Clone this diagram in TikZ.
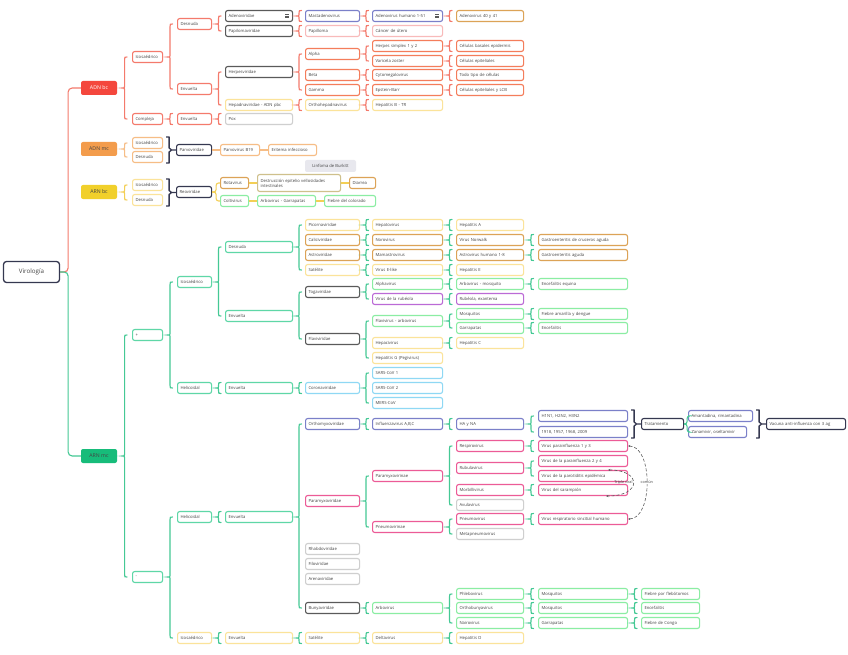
\documentclass[tikz,border=0pt]{standalone}
\usepackage{fontspec}
\setmainfont{Open Sans}
\usetikzlibrary{calc,arrows.meta}
\definecolor{tx}{HTML}{444444}
\definecolor{cRdF}{HTML}{F4473D}
\definecolor{cRd}{HTML}{F47A6C}
\definecolor{cDk}{HTML}{5A5A5A}
\definecolor{cNv}{HTML}{353850}
\definecolor{cBp}{HTML}{7B80C9}
\definecolor{cGd}{HTML}{DCA357}
\definecolor{cLp}{HTML}{F8BABA}
\definecolor{cOg}{HTML}{F47D5B}
\definecolor{cYl}{HTML}{FBE39A}
\definecolor{cLg}{HTML}{CFCFCF}
\definecolor{cOr}{HTML}{F6BD86}
\definecolor{cOrF}{HTML}{F39C4C}
\definecolor{cYlF}{HTML}{F1D02B}
\definecolor{cGnF}{HTML}{17BC7A}
\definecolor{cGr}{HTML}{8BEDA3}
\definecolor{cTl}{HTML}{5FD7A7}
\definecolor{cBrG}{HTML}{45C995}
\definecolor{cBrY}{HTML}{F3CF55}
\definecolor{cPu}{HTML}{BB6AD6}
\definecolor{cLb}{HTML}{8FD8F4}
\definecolor{cPk}{HTML}{EC5B97}
\definecolor{cKh}{HTML}{CFC08C}
\definecolor{cBurk}{HTML}{E8E8EE}
\newcommand\nodefont{\fontsize{4.2}{5}\selectfont}
\newcommand\nd[6]{\node[bx,#2,draw=#3] (#1) at (#4,#5) {#6};}
\newcommand\Brc[4][]{\draw[brcst,#1] let \p1=(#3.west), \p2=(#4.west), \p3=(#2.east), \p4=({(\x1+\x3)/2},\y3) in
 (\x4+2.5pt,\y1) .. controls (\x4,\y1) .. (\x4,\y1-2.5pt) -- (\x4,\y4+2pt) .. controls (\x4,\y4) .. (\x4-2.5pt,\y4) .. controls (\x4,\y4) .. (\x4,\y4-2pt) -- (\x4,\y2+2.5pt) .. controls (\x4,\y2) .. (\x4+2.5pt,\y2);}
\newcommand\Brs[3][]{\draw[brcst,#1] let \p1=(#3.west), \p3=(#2.east), \p4=({(\x1+\x3)/2},\y3) in
 (\x4+2.5pt,\y1+5.5pt) .. controls (\x4,\y1+5.5pt) .. (\x4,\y1+3pt) -- (\x4,\y4+2pt) .. controls (\x4,\y4) .. (\x4-2.5pt,\y4) .. controls (\x4,\y4) .. (\x4,\y4-2pt) -- (\x4,\y1-3pt) .. controls (\x4,\y1-5.5pt) .. (\x4+2.5pt,\y1-5.5pt);}
\newcommand\Sqb[4][]{\draw[sqbst,#1] let \p1=(#2.north east), \p2=(#3.south east), \p3=(#4.west), \p4=({max(\x1,\x2)+6pt},{(\y1+\y2)/2}) in
 (\x4-3pt,\y1) -- (\x4,\y1) -- (\x4,\y4+2pt) -- (\x4+2.5pt,\y4) -- (\x4,\y4-2pt) -- (\x4,\y2) -- (\x4-3pt,\y2) (\x4+2.5pt,\y4) -- (\x3,\y4);}
\begin{document}
\begin{tikzpicture}[x=1pt,y=-1pt,
 bx/.style={draw, rounded corners=2.2pt, line width=1.1pt, fill=white, anchor=west, minimum height=11pt, inner xsep=3pt, inner ysep=0.5pt, align=left, font=\nodefont, text=tx},
 cA/.style={text width=24pt}, cB/.style={text width=28pt}, cC/.style={text width=61pt},
 cD/.style={text width=48pt}, cE/.style={text width=64pt}, cF/.style={text width=61pt},
 cG/.style={text width=83pt}, cH/.style={text width=52pt},
 mainst/.style={rounded corners=2pt, minimum width=36pt, minimum height=14pt, inner sep=0pt, font=\fontsize{5.2}{6}\selectfont, text=tx},
 rootst/.style={draw=cNv, line width=1.3pt, rounded corners=3pt, fill=white, minimum width=56pt, minimum height=21pt, font=\fontsize{6.2}{7}\selectfont, text=tx},
 burk/.style={fill=cBurk, rounded corners=2pt, minimum width=51pt, minimum height=12pt, inner sep=0pt, font=\nodefont, text=tx},
 brcst/.style={line width=1.15pt, cBrG, line cap=round},
 sqbst/.style={line width=1.3pt, cNv, line join=round},
 cline/.style={line width=1.1pt},
 dsh/.style={densely dashed, line width=0.6pt, cDk, {Stealth[length=2.2pt,width=2pt]}-{Stealth[length=2.2pt,width=2pt]}},
 lbl/.style={font=\fontsize{3.8}{4.2}\selectfont, text=tx, inner sep=0.5pt}]
\fill[white] (0,0) rectangle (848,655);
\useasboundingbox (0,0) rectangle (848,655);

% root and main branches
\node[rootst] (root) at (31.5,272) {Virología};
\node[mainst, fill=cRdF, text=white] (adnbc) at (99,88) {ADN bc};
\node[mainst, fill=cOrF] (adnmc) at (99,149) {ADN mc};
\node[mainst, fill=cYlF] (arnbc) at (99,192) {ARN bc};
\node[mainst, fill=cGnF] (arnmc) at (99,456) {ARN mc};
\draw[cline,cRd,rounded corners=4pt] (root.east) -- ++(8,0) |- (adnbc.west);
\draw[cline,cBrG,rounded corners=4pt] (root.east) -- ++(8,0) |- (arnmc.west);

% ADN bc
\nd{icoA}{cA}{cRd}{132}{57}{Icosaédrico}
\nd{compA}{cA}{cRd}{132}{119}{Compleja}
\nd{desA}{cB}{cRd}{177}{24}{Desnuda}
\nd{envA}{cB}{cRd}{177}{89}{Envuelta}
\nd{envA2}{cB}{cRd}{177}{119}{Envuelta}
\nd{adeno}{cC}{cDk}{225}{16}{Adenoviridae}
\nd{papi}{cC}{cDk}{225}{31}{Papilomaviridae}
\nd{herpes}{cC}{cDk}{225}{72}{Herpesviridae}
\nd{hepadna}{cC}{cYl}{225}{105}{Hepadnaviridae - ADN pbc}
\nd{pox}{cC}{cLg}{225}{119}{Pox}
\nd{mast}{cD}{cBp}{305}{16}{Mastadenovirus}
\nd{papil}{cD}{cLp}{305}{31}{Papilloma}
\nd{alpha}{cD}{cOg}{305}{54}{Alpha}
\nd{beta}{cD}{cOg}{305}{75}{Beta}
\nd{gamma}{cD}{cOg}{305}{90}{Gamma}
\nd{orthoh}{cD}{cYl}{305}{105}{Orthohepadnavirus}
\nd{adh}{cE}{cBp}{372}{16}{Adenovirus humano 1-51}
\nd{cancer}{cE}{cLp}{372}{31}{Cáncer de útero}
\nd{hsv}{cE}{cOg}{372}{46}{Herpes simplex 1 y 2}
\nd{vzv}{cE}{cOg}{372}{61}{Varicela zoster}
\nd{cmv}{cE}{cOg}{372}{75}{Cytomegalovirus}
\nd{ebv}{cE}{cOg}{372}{90}{Epstein-Barr}
\nd{hepb}{cE}{cYl}{372}{105}{Hepatitis B - TR}
\nd{ad40}{cF}{cGd}{456}{16}{Adenovirus 40 y 41}
\nd{cel1}{cF}{cOg}{456}{46}{Células basales epidermis}
\nd{cel2}{cF}{cOg}{456}{61}{Células epiteliales}
\nd{cel3}{cF}{cOg}{456}{75}{Todo tipo de células}
\nd{cel4}{cF}{cOg}{456}{90}{Células epiteliales y LCB}
\foreach \n in {adeno,adh}{
 \draw[cDk,line width=0.5pt] ([xshift=-8pt,yshift=1.6pt]\n.east) -- ++(4,0) ([xshift=-8pt]\n.east) -- ++(4,0) ([xshift=-8pt,yshift=-1.6pt]\n.east) -- ++(4,0);}
\Brc[cRd]{adnbc}{icoA}{compA}
\Brc[cRd]{icoA}{desA}{envA}
\Brs[cRd]{compA}{envA2}
\Brc[cRd]{desA}{adeno}{papi}
\Brc[cRd]{envA}{herpes}{hepadna}
\Brs[cRd]{envA2}{pox}
\Brs[cRd]{adeno}{mast}
\Brs[cRd]{papi}{papil}
\Brc[cRd]{herpes}{alpha}{gamma}
\Brs[cRd]{hepadna}{orthoh}
\Brs[cRd]{mast}{adh}
\Brs[cRd]{papil}{cancer}
\Brc[cRd]{alpha}{hsv}{vzv}
\Brs[cRd]{beta}{cmv}
\Brs[cRd]{gamma}{ebv}
\Brs[cRd]{orthoh}{hepb}
\Brs[cRd]{adh}{ad40}
\Brs[cRd]{hsv}{cel1}
\Brs[cRd]{vzv}{cel2}
\Brs[cRd]{cmv}{cel3}
\Brs[cRd]{ebv}{cel4}

% ADN mc
\nd{icoB}{cA}{cOr}{132}{143}{Icosaédrico}
\nd{desB}{cA}{cOr}{132}{157}{Desnuda}
\node[bx, text width=29pt, draw=cNv] (parvo) at (176,150) {Parvoviridae};
\node[bx, text width=33pt, draw=cOr] (b19) at (220,150) {Parvovirus B19};
\node[bx, text width=42pt, draw=cOr] (erit) at (268,150) {Eritema infeccioso};
\Brc[cOr]{adnmc}{icoB}{desB}
\Sqb{icoB}{desB}{parvo}
\draw[cline,cOr] (parvo.east) -- (b19.west) (b19.east) -- (erit.west);
\node[burk] (burk) at (330.5,166) {Linfoma de Burkitt};

% ARN bc
\nd{icoC}{cA}{cYl}{132}{185}{Icosaédrico}
\nd{desC}{cA}{cYl}{132}{200}{Desnuda}
\node[bx, text width=29pt, draw=cNv] (reo) at (176,192) {Reoviridae};
\node[bx, text width=22pt, draw=cGd] (rota) at (220,183) {Rotavirus};
\node[bx, text width=77pt, draw=cKh, minimum height=17pt] (destr) at (257,183) {Destrucción epitelio vellosidades\\intestinales};
\node[bx, text width=20pt, draw=cGd] (diarr) at (349,183) {Diarrea};
\node[bx, text width=22pt, draw=cGr] (colti) at (220,201) {Coltivirus};
\node[bx, text width=52pt, draw=cGr] (arbog) at (257,201) {Arbovirus - Garrapatas};
\node[bx, text width=45pt, draw=cGr] (fcol) at (324,201) {Fiebre del colorado};
\Brc[cBrY]{arnbc}{icoC}{desC}
\Sqb{icoC}{desC}{reo}
\draw[cline,cBrY,rounded corners=2.5pt] (reo.east) -- ++(4,0) |- (rota.west);
\draw[cline,cBrY,rounded corners=2.5pt] (reo.east) -- ++(4,0) |- (colti.west);
\draw[cline,cBrY] (rota.east) -- (destr.west) (destr.east) -- (diarr.west) (colti.east) -- (arbog.west) (arbog.east) -- (fcol.west);

% ARN mc
\nd{plus}{cA}{cTl}{132}{335}{+}
\nd{minus}{cA}{cTl}{132}{577}{-}
\Brc{arnmc}{plus}{minus}
\nd{icoD}{cB}{cTl}{177}{282}{Icosaédrico}
\nd{heliD}{cB}{cTl}{177}{388}{Helicoidal}
\nd{desD}{cC}{cTl}{225}{247}{Desnuda}
\nd{envD}{cC}{cTl}{225}{316}{Envuelta}
\nd{envD2}{cC}{cTl}{225}{388}{Envuelta}
\nd{picorna}{cD}{cYl}{305}{225}{Picornaviridae}
\nd{calici}{cD}{cGd}{305}{240}{Caliciviridae}
\nd{astro}{cD}{cGd}{305}{255}{Astroviridae}
\nd{satA}{cD}{cYl}{305}{270}{Satélite}
\nd{toga}{cD}{cDk}{305}{292}{Togaviridae}
\nd{flavi}{cD}{cDk}{305}{339}{Flaviviridae}
\nd{corona}{cD}{cLb}{305}{388}{Coronaviridae}
\nd{hepato}{cE}{cYl}{372}{225}{Hepatovirus}
\nd{noro}{cE}{cGd}{372}{240}{Norovirus}
\nd{mamas}{cE}{cGd}{372}{255}{Mamastrovirus}
\nd{virE}{cE}{cYl}{372}{270}{Virus E-like}
\nd{alphav}{cE}{cGr}{372}{284}{Alphavirus}
\nd{rubv}{cE}{cPu}{372}{299}{Virus de la rubéola}
\nd{flavv}{cE}{cGr}{372}{321}{Flavivirus - arbovirus}
\nd{hepaci}{cE}{cYl}{372}{343}{Hepacivirus}
\nd{hepG}{cE}{cYl}{372}{358}{Hepatitis G (Pegivirus)}
\nd{sars1}{cE}{cLb}{372}{373}{SARS-CoV 1}
\nd{sars2}{cE}{cLb}{372}{388}{SARS-CoV 2}
\nd{mers}{cE}{cLb}{372}{403}{MERS-CoV}
\nd{hepA}{cF}{cYl}{456}{225}{Hepatitis A}
\nd{norw}{cF}{cGd}{456}{240}{Virus Norwalk}
\nd{astroh}{cF}{cGd}{456}{255}{Astrovirus humano 1-8}
\nd{hepE}{cF}{cYl}{456}{270}{Hepatitis E}
\nd{arbom}{cF}{cGr}{456}{284}{Arbovirus - mosquito}
\nd{rubex}{cF}{cPu}{456}{299}{Rubéola, exantema}
\nd{mosq}{cF}{cGr}{456}{314}{Mosquitos}
\nd{garr}{cF}{cGr}{456}{328}{Garrapatas}
\nd{hepC}{cF}{cYl}{456}{343}{Hepatitis C}
\nd{gas1}{cG}{cGd}{538}{240}{Gastroenteritis de cruceros aguda}
\nd{gas2}{cG}{cGd}{538}{255}{Gastroenteritis aguda}
\nd{encq}{cG}{cGr}{538}{284}{Encefalitis equina}
\nd{fam}{cG}{cGr}{538}{314}{Fiebre amarilla y dengue}
\nd{enc2}{cG}{cGr}{538}{328}{Encefalitis}
\Brc{plus}{icoD}{heliD}
\Brc{icoD}{desD}{envD}
\Brs{heliD}{envD2}
\Brc{desD}{picorna}{satA}
\Brc{envD}{toga}{flavi}
\Brs{envD2}{corona}
\Brs{picorna}{hepato}
\Brs{calici}{noro}
\Brs{astro}{mamas}
\Brs{satA}{virE}
\Brc{toga}{alphav}{rubv}
\Brc{flavi}{flavv}{hepG}
\Brc{corona}{sars1}{mers}
\Brs{hepato}{hepA}
\Brs{noro}{norw}
\Brs{mamas}{astroh}
\Brs{virE}{hepE}
\Brs{alphav}{arbom}
\Brs{rubv}{rubex}
\Brc{flavv}{mosq}{garr}
\Brs{hepaci}{hepC}
\Brs{norw}{gas1}
\Brs{astroh}{gas2}
\Brs{arbom}{encq}
\Brs{mosq}{fam}
\Brs{garr}{enc2}

% minus branch
\nd{heliE}{cB}{cTl}{177}{517}{Helicoidal}
\nd{icoE}{cB}{cYl}{177}{638}{Icosaédrico}
\nd{envE}{cC}{cTl}{225}{517}{Envuelta}
\nd{envE2}{cC}{cYl}{225}{638}{Envuelta}
\nd{orthomyx}{cD}{cBp}{305}{424}{Orthomyxoviridae}
\nd{paramyx}{cD}{cPk}{305}{501}{Paramyxoviridae}
\nd{rhabdo}{cD}{cLg}{305}{549}{Rhabdoviridae}
\nd{filo}{cD}{cLg}{305}{564}{Filoviridae}
\nd{arena}{cD}{cLg}{305}{579}{Arenaviridae}
\nd{bunya}{cD}{cDk}{305}{608}{Bunyaviridae}
\nd{satB}{cD}{cYl}{305}{638}{Satélite}
\nd{influ}{cE}{cBp}{372}{424}{Influenzavirus A,B,C}
\nd{paramyv}{cE}{cPk}{372}{476}{Paramyxovirinae}
\nd{pneumov}{cE}{cPk}{372}{527}{Pneumovirinae}
\nd{arbov}{cE}{cGr}{372}{608}{Arbovirus}
\nd{delta}{cE}{cYl}{372}{638}{Deltavirus}
\nd{hana}{cF}{cBp}{456}{424}{HA y NA}
\nd{respir}{cF}{cPk}{456}{446}{Respirovirus}
\nd{rubul}{cF}{cPk}{456}{468}{Rubulavirus}
\nd{morbi}{cF}{cPk}{456}{490}{Morbillivirus}
\nd{avula}{cF}{cLg}{456}{505}{Avulavirus}
\nd{pneumo}{cF}{cPk}{456}{519}{Pneumovirus}
\nd{metap}{cF}{cLg}{456}{534}{Metapneumovirus}
\nd{phlebo}{cF}{cGr}{456}{594}{Phlebovirus}
\nd{orthob}{cF}{cGr}{456}{608}{Orthobunyavirus}
\nd{nairo}{cF}{cGr}{456}{623}{Nairovirus}
\nd{hepD}{cF}{cYl}{456}{638}{Hepatitis D}
\nd{h1n1}{cG}{cBp}{538}{416}{H1N1, H2N2, H3N2}
\nd{years}{cG}{cBp}{538}{432}{1918, 1957, 1968, 2009}
\nd{pi13}{cG}{cPk}{538}{446}{Virus parainfluenza 1 y 3}
\nd{pi24}{cG}{cPk}{538}{461}{Virus de la parainfluenza 2 y 4}
\nd{parot}{cG}{cPk}{538}{476}{Virus de la parotiditis epidémica}
\nd{saramp}{cG}{cPk}{538}{490}{Virus del sarampión}
\nd{vrs}{cG}{cPk}{538}{519}{Virus respiratorio sincitial humano}
\nd{mosq2}{cG}{cGr}{538}{594}{Mosquitos}
\nd{mosq3}{cG}{cGr}{538}{608}{Mosquitos}
\nd{garr2}{cG}{cGr}{538}{623}{Garrapatas}
\nd{fpf}{cH}{cGr}{641}{594}{Fiebre por flebótomos}
\nd{enc3}{cH}{cGr}{641}{608}{Encefalitis}
\nd{fcongo}{cH}{cGr}{641}{623}{Fiebre de Congo}
\node[bx, text width=36pt, draw=cNv] (tratam) at (641,424) {Tratamiento};
\node[bx, text width=58pt, draw=cBp] (amant) at (688,416) {Amantadina, rimantadina};
\node[bx, text width=52pt, draw=cBp] (zana) at (688,432) {Zanamivir, oseltamivir};
\node[bx, text width=73pt, draw=cNv] (vacuna) at (766,424) {Vacuna anti-influenza con 3 ag};
\Brc{minus}{heliE}{icoE}
\Brs{heliE}{envE}
\Brs{icoE}{envE2}
\Brc{envE}{orthomyx}{bunya}
\Brs{envE2}{satB}
\Brs{orthomyx}{influ}
\Brc{paramyx}{paramyv}{pneumov}
\Brs{bunya}{arbov}
\Brs{satB}{delta}
\Brs{influ}{hana}
\Brc{paramyv}{respir}{avula}
\Brc{pneumov}{pneumo}{metap}
\Brc{arbov}{phlebo}{nairo}
\Brs{delta}{hepD}
\Brc{hana}{h1n1}{years}
\Brs{respir}{pi13}
\Brc{rubul}{pi24}{parot}
\Brs{morbi}{saramp}
\Brs{pneumo}{vrs}
\Brs{phlebo}{mosq2}
\Brs{orthob}{mosq3}
\Brs{nairo}{garr2}
\Brs{mosq2}{fpf}
\Brs{mosq3}{enc3}
\Brs{garr2}{fcongo}
\Sqb{h1n1}{years}{tratam}
\draw[cline,cBrG,rounded corners=2.5pt] (tratam.east) -- ++(3,0) |- (amant.west);
\draw[cline,cBrG,rounded corners=2.5pt] (tratam.east) -- ++(3,0) |- (zana.west);
\Sqb{amant}{zana}{vacuna}

% relationships
\draw[dsh] ([xshift=-20pt]parot.north east) .. controls +(34,0) and +(36,0) .. ([xshift=-22pt]saramp.south east) node[pos=0.5, anchor=east, lbl] {Triple viral};
\draw[dsh] (pi13.east) .. controls +(25,0) and +(25,0) .. (vrs.east) node[pos=0.5, lbl, fill=white] {común};
\end{tikzpicture}
\end{document}
